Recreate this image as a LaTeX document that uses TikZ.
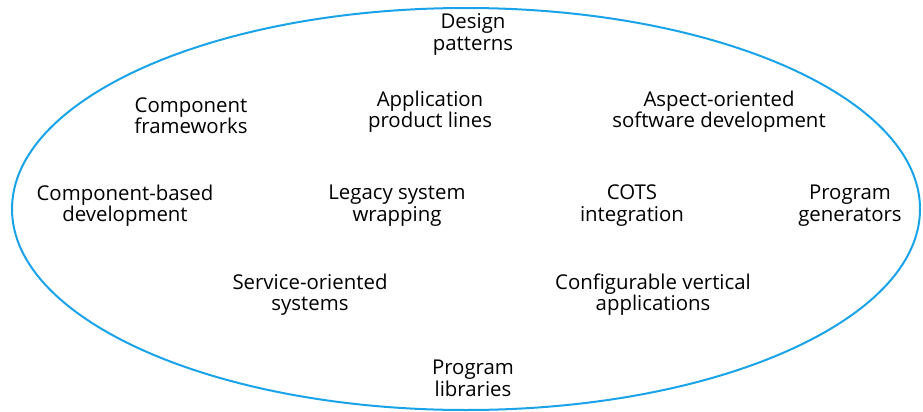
\documentclass[tikz,border=0pt]{standalone}
\usepackage{fontspec}
\setmainfont{Open Sans}
\definecolor{ringblue}{HTML}{1AA3E8}
\begin{document}
\begin{tikzpicture}[x=1pt,y=-1pt,
  lbl/.style={align=center,font=\fontsize{20.4}{21.5}\selectfont,inner sep=0pt}]
\useasboundingbox (0,0) rectangle (923,412);
\draw[ringblue,line width=2pt] (466,209) ellipse [x radius=454, y radius=201];
\node[lbl] (dp) at (473,34.5) {Design\\patterns};
\node[lbl] (cf) at (191,115.5) {Component\\frameworks};
\node[lbl] (apl) at (430,111.5) {Application\\product lines};
\node[lbl] (aosd) at (719,111.5) {Aspect-oriented\\software development};
\node[lbl] (cbd) at (125,205.5) {Component-based\\development};
\node[lbl] (lsw) at (397,205.5) {Legacy system\\wrapping};
\node[lbl] (cots) at (632,205.5) {COTS\\integration};
\node[lbl] (pg) at (850,205.5) {Program\\generators};
\node[lbl] (sos) at (310,294.5) {Service-oriented\\systems};
\node[lbl] (cva) at (653,294.5) {Configurable vertical\\applications};
\node[lbl] (pl) at (473,378.5) {Program\\libraries};
\end{tikzpicture}
\end{document}
